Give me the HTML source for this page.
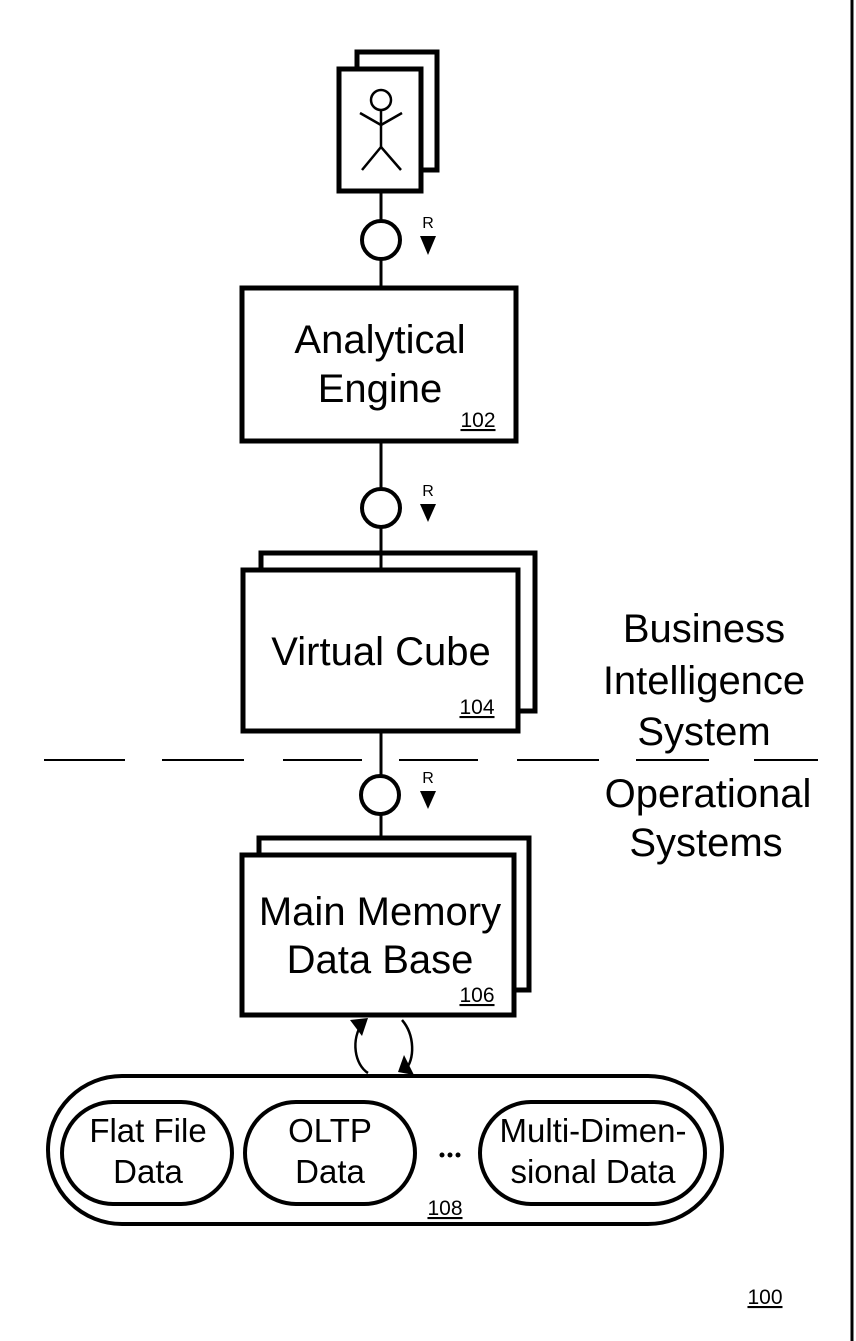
<!DOCTYPE html>
<html><head><meta charset="utf-8"><style>
html,body{margin:0;padding:0;background:#fff;}
svg{display:block;}
text{font-family:"Liberation Sans",Arial,sans-serif;fill:#000;}
</style></head><body>
<svg width="856" height="1341" viewBox="0 0 856 1341" xmlns="http://www.w3.org/2000/svg">
<rect x="0" y="0" width="856" height="1341" fill="#fff"/>
<line x1="852" y1="0" x2="852" y2="1341" stroke="#000" stroke-width="3"/>

<rect x="357" y="52" width="80" height="118" fill="#fff" stroke="#000" stroke-width="5"/>
<rect x="339" y="69" width="82" height="122" fill="#fff" stroke="#000" stroke-width="5"/>
<g stroke="#000" stroke-width="2.5" fill="none">
<circle cx="381" cy="100" r="10"/>
<line x1="381" y1="110" x2="381" y2="147"/>
<line x1="360" y1="113" x2="381" y2="125"/><line x1="402" y1="113" x2="381" y2="125"/>
<line x1="381" y1="147" x2="362" y2="170"/><line x1="381" y1="147" x2="401" y2="170"/>
</g>

<g stroke="#000" stroke-width="3" fill="none">
<line x1="381" y1="193" x2="381" y2="286"/>
<line x1="381" y1="443" x2="381" y2="568"/>
<line x1="381" y1="732" x2="381" y2="853"/>
</g>
<g stroke="#000" stroke-width="4" fill="#fff">
<circle cx="381" cy="240" r="19"/>
<circle cx="381" cy="508" r="19"/>
<circle cx="380" cy="795" r="19"/>
</g>
<g font-size="16" text-anchor="middle">
<text x="428" y="228">R</text><text x="428" y="496">R</text><text x="428" y="783">R</text>
</g>
<g fill="#000">
<polygon points="420,236 436,236 428,255"/>
<polygon points="420,504 436,504 428,522"/>
<polygon points="420,791 436,791 428,809"/>
</g>

<rect x="242" y="288" width="274" height="153" fill="#fff" stroke="#000" stroke-width="5"/>
<text x="380" y="353" font-size="40" text-anchor="middle">Analytical</text>
<text x="380" y="402" font-size="40" text-anchor="middle">Engine</text>
<text x="478" y="427" font-size="21" text-anchor="middle" text-decoration="underline">102</text>

<rect x="261" y="553" width="274" height="158" fill="#fff" stroke="#000" stroke-width="5"/>
<rect x="243" y="570" width="275" height="161" fill="#fff" stroke="#000" stroke-width="5"/>
<line x1="381" y1="553" x2="381" y2="570" stroke="#000" stroke-width="3"/>
<text x="381" y="665" font-size="40" text-anchor="middle">Virtual Cube</text>
<text x="477" y="714" font-size="21" text-anchor="middle" text-decoration="underline">104</text>

<g stroke="#000" stroke-width="2">
<line x1="44" y1="760" x2="125" y2="760"/><line x1="162" y1="760" x2="244" y2="760"/>
<line x1="283" y1="760" x2="362" y2="760"/><line x1="399" y1="760" x2="478" y2="760"/>
<line x1="517" y1="760" x2="599" y2="760"/><line x1="636" y1="760" x2="709" y2="760"/>
<line x1="754" y1="760" x2="818" y2="760"/>
</g>

<g font-size="40" text-anchor="middle">
<text x="704" y="642">Business</text>
<text x="704" y="694">Intelligence</text>
<text x="704" y="745">System</text>
<text x="708" y="807">Operational</text>
<text x="706" y="856">Systems</text>
</g>

<rect x="259" y="838" width="270" height="152" fill="#fff" stroke="#000" stroke-width="5"/>
<rect x="242" y="855" width="272" height="160" fill="#fff" stroke="#000" stroke-width="5"/>
<text x="380" y="925" font-size="40" text-anchor="middle">Main Memory</text>
<text x="380" y="973" font-size="40" text-anchor="middle">Data Base</text>
<text x="477" y="1002" font-size="21" text-anchor="middle" text-decoration="underline">106</text>

<g stroke="#000" stroke-width="2.5" fill="none">
<path d="M363 1022 C350 1040 355 1065 368 1073"/>
<path d="M402 1020 C415 1035 415 1060 405 1070"/>
</g>
<polygon points="350,1020 368,1018 362,1036" fill="#000"/>
<polygon points="398,1072 414,1075 404,1055" fill="#000"/>

<rect x="48" y="1076" width="674" height="148" rx="74" fill="#fff" stroke="#000" stroke-width="4"/>
<rect x="62" y="1102" width="170" height="102" rx="51" fill="#fff" stroke="#000" stroke-width="4"/>
<rect x="245" y="1102" width="170" height="102" rx="51" fill="#fff" stroke="#000" stroke-width="4"/>
<rect x="480" y="1102" width="225" height="102" rx="51" fill="#fff" stroke="#000" stroke-width="4"/>
<g font-size="33" text-anchor="middle">
<text x="148" y="1142">Flat File</text><text x="148" y="1183">Data</text>
<text x="330" y="1142">OLTP</text><text x="330" y="1183">Data</text>
<text x="593" y="1142">Multi-Dimen-</text><text x="593" y="1183">sional Data</text>
</g>
<g fill="#000"><circle cx="442" cy="1155" r="2.5"/><circle cx="450" cy="1155" r="2.5"/><circle cx="458" cy="1155" r="2.5"/></g>
<text x="445" y="1215" font-size="21" text-anchor="middle" text-decoration="underline">108</text>

<text x="765" y="1304" font-size="21" text-anchor="middle" text-decoration="underline">100</text>
</svg>
</body></html>
